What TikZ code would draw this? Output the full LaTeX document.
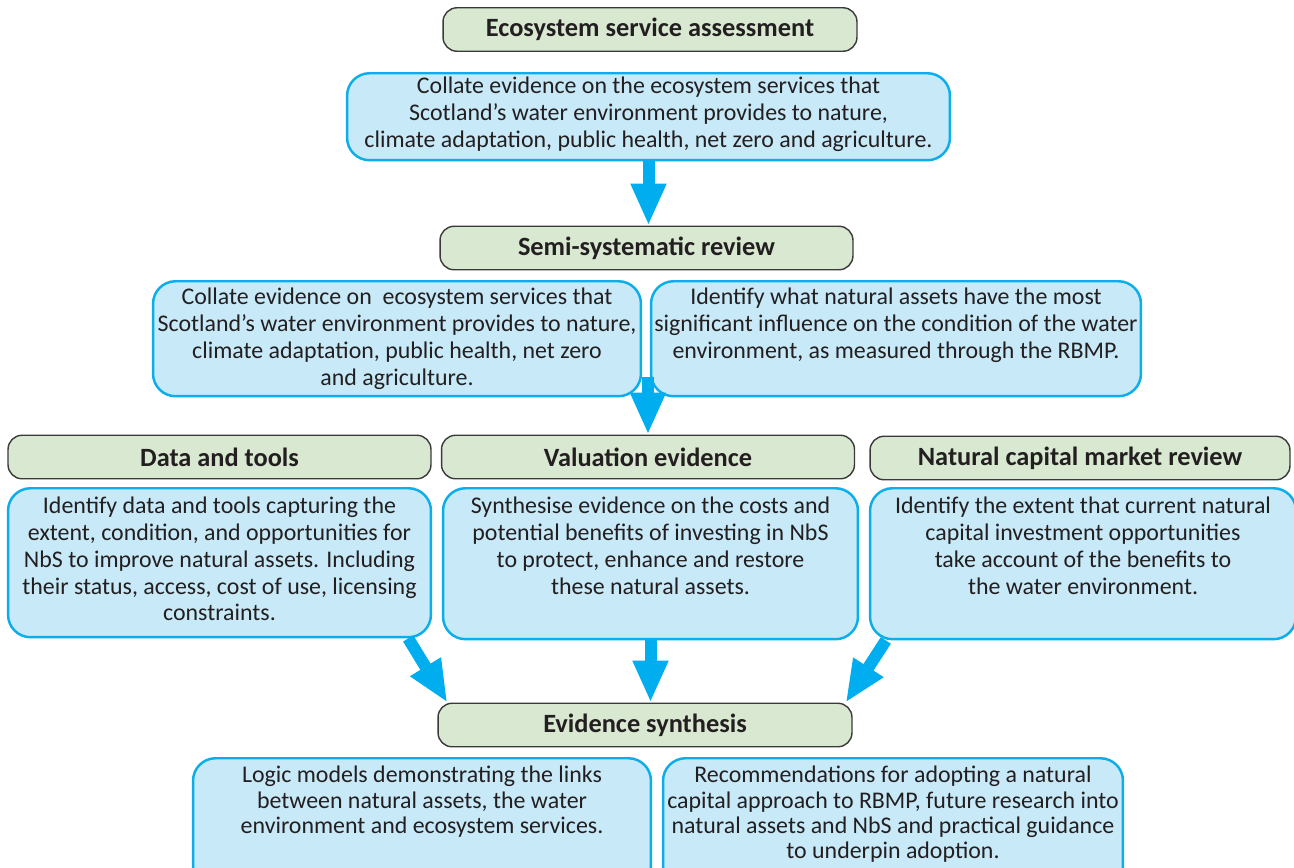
\documentclass[tikz,border=0pt]{standalone}
\usepackage{fontspec}
\setmainfont{Carlito}
\usetikzlibrary{arrows.meta, positioning}

\definecolor{boxblue}{HTML}{C7E9F8}
\definecolor{lineblue}{HTML}{0BAEEA}
\definecolor{headgreen}{HTML}{D8E8D1}
\definecolor{headline}{HTML}{3A3A3A}
\definecolor{inkgray}{HTML}{231F20}
\definecolor{arrowblue}{HTML}{00AEEF}

\begin{document}
\begin{tikzpicture}[
    x=0.02cm, y=-0.02cm,
    heading/.style={
        rectangle,
        rounded corners=0.28cm,
        draw=headline,
        line width=0.8pt,
        fill=headgreen,
        text=inkgray,
        font=\fontsize{15}{18}\selectfont\bfseries,
        minimum height=0.87cm,
        inner sep=0pt
    },
    infobox/.style={
        rectangle,
        rounded corners=0.45cm,
        draw=lineblue,
        line width=1.4pt,
        fill=boxblue,
        anchor=north,
        inner sep=0pt
    },
    infotext/.style={
        align=center,
        text=inkgray,
        inner sep=0pt,
        font=\fontsize{13.6}{15.2}\selectfont
    },
    tighttext/.style={infotext, font=\fontsize{13.6}{14.3}\selectfont},
    flow/.style={-{Triangle[length=0.84cm, width=0.66cm]}, draw=arrowblue, line width=0.24cm}
]
\useasboundingbox (0,0) rectangle (1294,867);
\clip (0,0) rectangle (1294,867);

% headings
\node[heading, minimum width=8.28cm] (ecoTitle) at (650,29.5) {Ecosystem service assessment};
\node[heading, minimum width=8.26cm] (semiTitle) at (646.5,248) {Semi-systematic review};
\node[heading, minimum width=8.46cm] (dataTitle) at (219.5,457) {Data and tools};
\node[heading, minimum width=8.26cm] (valTitle) at (648,457) {Valuation evidence};
\node[heading, minimum width=8.40cm] (marketTitle) at (1080,458) {Natural capital market review};
\node[heading, minimum width=8.28cm] (synthTitle) at (645,725) {Evidence synthesis};

% blue boxes, text hung from the top edge
\node[infobox, minimum width=12.06cm, minimum height=1.74cm] (collateBox) at (648.5,72) {};
\node[infotext, below=0.1cm of collateBox.north] (collateText) {Collate evidence on the ecosystem services that\\Scotland’s water environment provides to nature,\\climate adaptation, public health, net zero and agriculture.};

\node[infobox, minimum width=9.76cm, minimum height=2.30cm] (reviewBox) at (397,280) {};
\node[infotext, below=0.16cm of reviewBox.north] (reviewText) {Collate evidence on\ \ ecosystem services that\\Scotland’s water environment provides to nature,\\climate adaptation, public health, net zero\\and agriculture.};

\node[infobox, minimum width=9.80cm, minimum height=2.30cm] (assetBox) at (896,280) {};
\node[infotext, below=0.16cm of assetBox.north] (assetText) {Identify what natural assets have the most\\significant influence on the condition of the water\\environment, as measured through the RBMP.};

\node[infobox, minimum width=8.46cm, minimum height=2.98cm] (dataBox) at (219.5,487) {};
\node[infotext, below=0.2cm of dataBox.north] (dataText) {Identify data and tools capturing the\\extent, condition, and opportunities for\\NbS to improve natural assets. Including\\their status, access, cost of use, licensing\\constraints.};

\node[infobox, minimum width=8.30cm, minimum height=3.02cm] (costBox) at (650.5,487) {};
\node[infotext, below=0.2cm of costBox.north] (costText) {Synthesise evidence on the costs and\\potential benefits of investing in NbS\\to protect, enhance and restore\\these natural assets.};

\node[infobox, minimum width=8.52cm, minimum height=3.02cm] (extentBox) at (1083,487) {};
\node[infotext, below=0.2cm of extentBox.north] (extentText) {Identify the extent that current natural\\capital investment opportunities\\take account of the benefits to\\the water environment.};

\node[infobox, minimum width=9.16cm, minimum height=2.60cm] (logicBox) at (422,757) {};
\node[tighttext, below=0.18cm of logicBox.north] (logicText) {Logic models demonstrating the links\\between natural assets, the water\\environment and ecosystem services.};

\node[infobox, minimum width=9.20cm, minimum height=2.60cm] (recoBox) at (893,757) {};
\node[tighttext, below=0.18cm of recoBox.north] (recoText) {Recommendations for adopting a natural\\capital approach to RBMP, future research into\\natural assets and NbS and practical guidance\\to underpin adoption.};

% arrows
\draw[flow] (collateBox.south) -- (collateBox.south |- semiTitle.north);
\draw[flow] ([yshift=0.4cm]reviewBox.south -| valTitle.north) -- (valTitle.north);
\draw[flow] ([xshift=-0.48cm]dataBox.south east) -- ([xshift=0.2cm]synthTitle.north west);
\draw[flow] (costBox.south) -- (costBox.south |- synthTitle.north);
\draw[flow] ([xshift=0.34cm]extentBox.south west) -- ([xshift=-0.14cm]synthTitle.north east);

\end{tikzpicture}
\end{document}
